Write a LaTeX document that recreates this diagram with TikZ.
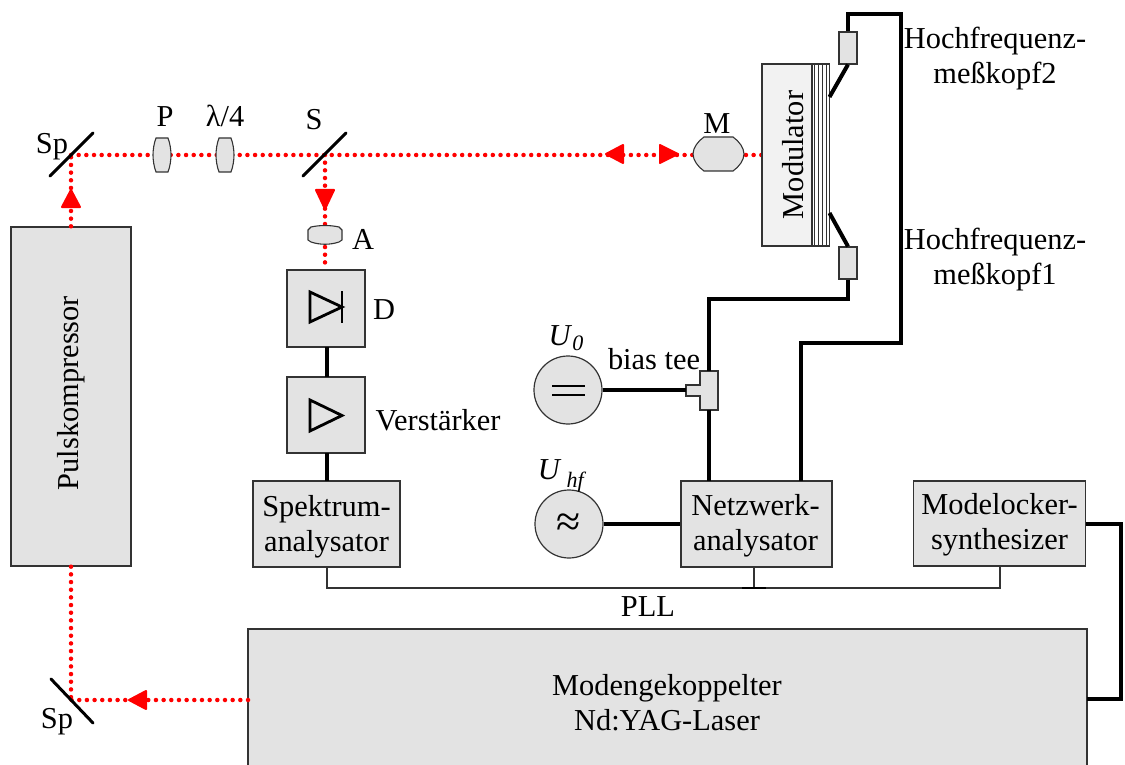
\documentclass[tikz,border=0pt]{standalone}
\usepackage{fontspec}
\setmainfont{Liberation Serif}
\usetikzlibrary{calc}
\definecolor{boxg}{HTML}{E3E3E3}
\definecolor{modg}{HTML}{F2F2F2}
\definecolor{edge}{HTML}{333333}
\tikzset{
  txt/.style={inner sep=0pt,font=\fontsize{30.4}{35}\selectfont,align=center},
  sbox/.style={draw=edge,line width=1.4pt,fill=boxg,inner sep=0pt},
  wire/.style={line width=4pt,line cap=butt,line join=miter},
  thinw/.style={line width=1.3pt,draw=edge},
  mirror/.style={line width=3pt,line cap=round},
  beam/.style={draw=red,line width=4.5pt,line cap=round,dash pattern=on 0pt off 7.67pt},
  optic/.style={draw=edge,line width=1.1pt,fill=boxg},
  tip/.style={fill=red,draw=red,line width=2pt,line join=round},
  source/.style={circle,draw=edge,line width=1.2pt,fill=boxg,minimum size=68pt,inner sep=0pt},
  sym/.style={line width=2.8pt,line join=miter}
}
\begin{document}
\begin{tikzpicture}[x=1pt,y=-1pt]
\useasboundingbox (0,0) rectangle (1125,765);
\clip (0,0) rectangle (1125,765);

% beam path
\coordinate (sptop) at (71,155);
\coordinate (spbot) at (71,700);
\coordinate (ssplit) at (325,155);

% main boxes
\node[sbox,minimum width=120pt,minimum height=339pt] (puls) at (71,396.5) {};
\node[font=\fontsize{30.4}{35}\selectfont,rotate=90,inner sep=0pt] (pulstxt) at (71,393) {Pulskompressor};
\node[sbox,minimum width=839pt,minimum height=160pt] (laser) at (667.5,709) {};
\node[txt] (lasertxt) at (667,703) {Modengekoppelter\\Nd:YAG-Laser};
\node[sbox,minimum width=78pt,minimum height=77pt] (diode) at (326,308.5) {};
\node[sbox,minimum width=78pt,minimum height=76pt] (amp) at (326,415) {};
\node[sbox,minimum width=147pt,minimum height=86pt] (spek) at (326.5,524) {};
\node[txt] (spektxt) at (326.5,527) {Spektrum-\\analysator};
\node[sbox,minimum width=151pt,minimum height=86pt] (netz) at (756.5,524) {};
\node[txt] (netztxt) at (755.5,526) {Netzwerk-\\analysator};
\node[sbox,minimum width=172pt,minimum height=85pt] (mode) at (999.5,523.5) {};
\node[txt] (modetxt) at (999.5,525) {Modelocker-\\synthesizer};

% beams
\draw[beam] (puls.north) -- (sptop);
\draw[beam] (sptop) -- (762,155);
\draw[beam] (ssplit) -- (325,270);
\draw[beam] (puls.south) -- (spbot);
\draw[beam] (248,700) -- (spbot);

% arrowheads
\path[tip] (71,190) -- (80,207) -- (62,207) -- cycle;
\path[tip] (325,209) -- (334,190) -- (316,190) -- cycle;
\path[tip] (129,700) -- (146,691) -- (146,709) -- cycle;
\path[tip] (606,154) -- (623,145) -- (623,163) -- cycle;
\path[tip] (678,154) -- (660,145) -- (660,163) -- cycle;

% mirrors
\draw[mirror] (50,176) -- (93,133);
\draw[mirror] (51,679) -- (93,723);
\draw[mirror] (303,176) -- (346,133);

% lenses
\path[optic] (156,138) -- (168,138) .. controls (170,143) and (171,150) .. (171,155)
    .. controls (171,160) and (170,167) .. (168,172) -- (156,172)
    .. controls (154,167) and (153,160) .. (153,155) .. controls (153,150) and (154,143) .. (156,138) -- cycle;
\path[optic] (219,138) -- (231,138) .. controls (233,143) and (234,150) .. (234,155)
    .. controls (234,160) and (233,167) .. (231,172) -- (219,172)
    .. controls (217,167) and (216,160) .. (216,155) .. controls (216,150) and (217,143) .. (219,138) -- cycle;
\path[optic] (311,227) .. controls (320,225) and (330,225) .. (339,227) -- (342,230) -- (342,240)
  -- (339,242) .. controls (330,245) and (320,245) .. (311,242) -- (308,240) -- (308,230) -- cycle;
\path[optic] (704,137) -- (733,137) .. controls (739,141) and (744,148) .. (744,154)
  .. controls (744,160) and (739,167) .. (733,171) -- (704,171)
  .. controls (698,167) and (693,160) .. (693,154) .. controls (693,148) and (698,141) .. (704,137) -- cycle;

% modulator
\node[draw=edge,line width=1.2pt,fill=modg,minimum width=50pt,minimum height=182pt,inner sep=0pt] (modu) at (787,155) {};
\path[draw=edge,line width=1.2pt,fill=white] (812,64) rectangle (829.5,246);
\foreach \xx in {814.5,818,822,826}{\draw[edge,line width=.9pt] (\xx,64) -- (\xx,246);}
\node[font=\fontsize{30.4}{35}\selectfont,rotate=90,inner sep=0pt] (modtxt) at (793,155) {Modulator};

% heads
\node[sbox,line width=1.1pt,minimum width=18pt,minimum height=32pt] (head2) at (848,48) {};
\node[sbox,line width=1.1pt,minimum width=18pt,minimum height=32pt] (head1) at (848,263) {};
\coordinate (mt) at (829.5,97);
\coordinate (mb) at (829.5,213);
\draw[wire] (mt) -- (head2.south);
\draw[wire] (mb) -- (head1.north);

% tee
\path[draw=edge,line width=1.1pt,fill=boxg] (700,371) rectangle (718,410);
\path[draw=edge,line width=1.1pt,fill=boxg] (686,385) -- (700.5,385) -- (700.5,396) -- (686,396) -- cycle;
\path[fill=boxg] (699,386) rectangle (701.5,395);
\coordinate (teetop) at (709,371);
\coordinate (teebot) at (709,410);
\coordinate (teeleft) at (686,390);

% sources
\node[source] (u0) at (568,390) {};
\node[source] (uhf) at (569,524) {};
\draw[sym] (552,386) -- (585,386);
\draw[sym] (552,395) -- (585,395);
\node[inner sep=0pt,font=\fontsize{44}{44}\selectfont] (apx) at (569,525) {≈};

% thick wires
\draw[wire] (head2.north) -- (848,14) -- (901,14) -- (901,343) -- (801,343) -- (801,481);
\draw[wire] (head1.south) -- (848,299) -- (709,299) -- (teetop);
\draw[wire] (teebot) -- (709,481);
\draw[wire] (u0.east) -- (teeleft);
\draw[wire] (uhf.east) -- (netz.west |- uhf.east);
\draw[wire] (327,347) -- (327,377);
\draw[wire] (327,453) -- (327,481);
\draw[wire] (mode.east) -- (1121,523.5) -- (1121,699) -- (1087,699);

% PLL
\coordinate (pa) at (327,588);
\coordinate (pb) at (754,588);
\coordinate (pc) at (1000,588);
\draw[thinw] (327,567) -- (pa) -- (pc) -- (1000,566);
\draw[thinw] (754,567) -- (pb);
\draw[line width=1.6pt] (742,588) -- (766,588);

% diode and amp symbols
\draw[sym] (310,292) -- (310,322) -- (342,307) -- cycle;
\draw[sym] (342,291) -- (342,323);
\draw[sym] (310,400) -- (310,431) -- (342,415.5) -- cycle;

% labels
\node[txt] (l1) at (52,147) {Sp};
\node[txt] (l2) at (57,722) {Sp};
\node[txt] (l3) at (165,117) {P};
\node[txt] (l4) at (225,116) {λ/4};
\node[txt] (l5) at (314,120) {S};
\node[txt] (l6) at (363,239) {A};
\node[txt] (l7) at (717,124) {M};
\node[txt] (l8) at (384,310) {D};
\node[txt] (l9) at (438,420) {Verstärker};
\node[txt] (l10) at (995,59) {Hochfrequenz-\\meßkopf2};
\node[txt] (l11) at (995,260) {Hochfrequenz-\\meßkopf1};
\node[txt] (l12) at (654,359) {bias tee};
\node[txt] (l13) at (566,338) {\textit{U}\raisebox{-5pt}{\fontsize{22}{22}\selectfont\textit{0}}};
\node[txt] (l14) at (562,476) {\textit{U}\,\raisebox{-8pt}{\fontsize{22}{22}\selectfont\textit{hf}}};
\node[txt] (l15) at (648,607) {PLL};
\end{tikzpicture}
\end{document}
